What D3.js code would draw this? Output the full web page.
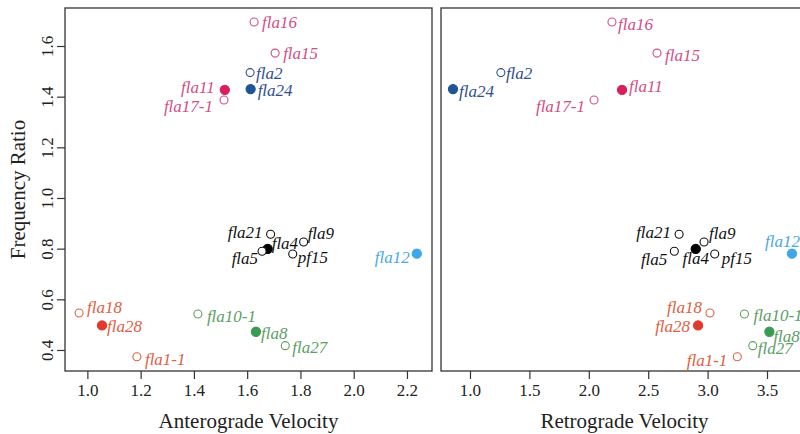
<!DOCTYPE html>
<html lang="en">
<head>
  <meta charset="UTF-8" />
  <title>Frequency Ratio vs Velocity</title>
  <script src="https://d3js.org/d3.v7.min.js"></script>
  <style>
    body { margin: 0; background: white; }
    svg text { font-family: "Liberation Serif", "DejaVu Serif", serif; }
    .frame { fill: none; stroke: #333; stroke-width: 1.3px; }
    .axis path, .axis line { stroke: #333; stroke-width: 1.2px; }
    .axis text { font-size: 17px; fill: #222; }
    .lbl { font-style: italic; font-size: 17px; }
    .title { font-size: 21px; fill: #222; }
  </style>
</head>
<body>
  <svg id="chart" width="800" height="434"></svg>

  <script>
    // strains
    const names = ["fla16", "fla15", "fla2", "fla24", "fla11", "fla17-1",
                   "fla21", "fla4", "fla5", "fla9", "pf15", "fla12",
                   "fla18", "fla28", "fla1-1", "fla10-1", "fla8", "fla27"];
    const antero = [1.626, 1.705, 1.611, 1.613, 1.516, 1.513,
                    1.688, 1.677, 1.656, 1.812, 1.771, 2.237,
                    0.969, 1.055, 1.186, 1.415, 1.633, 1.743];
    const retro  = [2.195, 2.574, 1.26, 0.857, 2.28, 2.044,
                    2.76, 2.90, 2.72, 2.97, 3.06, 3.71,
                    3.02, 2.92, 3.25, 3.31, 3.52, 3.38];
    const ratio  = [1.695, 1.572, 1.495, 1.43, 1.427, 1.387,
                    0.857, 0.799, 0.79, 0.826, 0.779, 0.78,
                    0.546, 0.497, 0.373, 0.542, 0.472, 0.417];
    const group  = ["pink", "pink", "blue", "blue", "pink", "pink",
                    "black", "black", "black", "black", "black", "cyan",
                    "red", "red", "red", "green", "green", "green"];
    const filled = [0, 0, 0, 1, 1, 0, 0, 1, 0, 0, 0, 1, 0, 1, 0, 0, 1, 0];

    const xTicksA = [1.0, 1.2, 1.4, 1.6, 1.8, 2.0, 2.2];
    const xTicksR = [1.0, 1.5, 2.0, 2.5, 3.0, 3.5];
    const yTicks  = [0.4, 0.6, 0.8, 1.0, 1.2, 1.4, 1.6];

    const colors = {
      pink:  { line: "#d24f84", fill: "#d81e5b" },
      blue:  { line: "#2f4f8e", fill: "#1f5596" },
      black: { line: "#111",    fill: "#000" },
      cyan:  { line: "#4aa9e3", fill: "#3fa7e8" },
      red:   { line: "#e0603f", fill: "#e03a2e" },
      green: { line: "#5d9e66", fill: "#3a9a55" }
    };

    // label placement [dx, dy, anchor]
    const labA = {
      "fla16": [8, 0, "start"], "fla15": [8, 0, "start"], "fla2": [6, 0, "start"],
      "fla24": [7, 1, "start"], "fla11": [-10, -3, "end"], "fla17-1": [-11, 6, "end"],
      "fla21": [-8, -2, "end"], "fla4": [4, -6, "start"], "fla5": [-4, 7, "end"],
      "fla9": [4, -9, "start"], "pf15": [5, 3, "start"], "fla12": [-7, 3, "end"],
      "fla18": [8, -6, "start"], "fla28": [5, 1, "start"], "fla1-1": [8, 2, "start"],
      "fla10-1": [9, 2, "start"], "fla8": [5, 1, "start"], "fla27": [7, 1, "start"]
    };
    const labR = {
      "fla16": [6, 2, "start"], "fla15": [8, 2, "start"], "fla2": [5, 0, "start"],
      "fla24": [6, 2, "start"], "fla11": [7, -4, "start"], "fla17-1": [-9, 6, "end"],
      "fla21": [-8, -2, "end"], "fla4": [0, 9, "middle"], "fla5": [-7, 8, "end"],
      "fla9": [5, -9, "start"], "pf15": [7, 4, "start"], "fla12": [8, -13, "end"],
      "fla18": [-8, -6, "end"], "fla28": [-8, 1, "end"], "fla1-1": [-10, 3, "end"],
      "fla10-1": [9, 1, "start"], "fla8": [4, 4, "start"], "fla27": [5, 2, "start"]
    };

    const svg = d3.select("#chart");
    const yTop = 8, yBot = 371;

    const y = d3.scaleLinear().domain([0.317, 1.75]).range([yBot, yTop]);

    const rows = names.map((n, i) => ({
      name: n, a: antero[i], r: retro[i], f: ratio[i], g: group[i], filled: filled[i]
    }));

    function panel(x0, x1, domain, ticks, key, labs, title, showY) {
      const x = d3.scaleLinear().domain(domain).range([x0, x1]);
      const g = svg.append("g");

      g.append("rect").attr("class", "frame")
        .attr("x", x0).attr("y", yTop)
        .attr("width", x1 - x0).attr("height", yBot - yTop);

      g.append("g").attr("class", "axis")
        .attr("transform", `translate(0,${yBot})`)
        .call(d3.axisBottom(x).tickValues(ticks).tickFormat(d3.format(".1f"))
              .tickSizeOuter(0).tickSize(8).tickPadding(5))
        .call(s => s.select(".domain").remove());

      if (showY) {
        const ay = g.append("g").attr("class", "axis")
          .attr("transform", `translate(${x0},0)`)
          .call(d3.axisLeft(y).tickValues(yTicks).tickFormat(d3.format(".1f"))
                .tickSizeOuter(0).tickSize(8))
          .call(s => s.select(".domain").remove());
        ay.selectAll(".tick text")
          .attr("transform", "translate(-18,0) rotate(-90)")
          .attr("x", 0).attr("y", 0).attr("dy", "0.35em")
          .attr("text-anchor", "middle");

        svg.append("text").attr("class", "title")
          .attr("transform", `translate(18,${(yTop + yBot) / 2}) rotate(-90)`)
          .attr("text-anchor", "middle").attr("dy", "0.35em")
          .text("Frequency Ratio");
      }

      g.append("text").attr("class", "title")
        .attr("x", (x0 + x1) / 2).attr("y", 428)
        .attr("text-anchor", "middle")
        .text(title);

      const pts = g.selectAll(".pt").data(rows).join("g").attr("class", "pt")
        .attr("transform", d => `translate(${x(d[key])},${y(d.f)})`);

      pts.append("circle")
        .attr("r", d => d.filled ? 4.6 : 4)
        .attr("fill", d => d.filled ? colors[d.g].fill : "white")
        .attr("stroke", d => d.filled ? colors[d.g].fill : colors[d.g].line)
        .attr("stroke-width", 1.1);

      pts.append("text").attr("class", "lbl")
        .attr("x", d => labs[d.name][0])
        .attr("y", d => labs[d.name][1])
        .attr("dy", "0.35em")
        .attr("text-anchor", d => labs[d.name][2])
        .attr("fill", d => colors[d.g].line)
        .text(d => d.name);
    }

    panel(65, 432, [0.916, 2.294], xTicksA, "a", labA, "Anterograde Velocity", true);
    panel(441, 808, [0.756, 3.845], xTicksR, "r", labR, "Retrograde Velocity", false);
  </script>
</body>
</html>
